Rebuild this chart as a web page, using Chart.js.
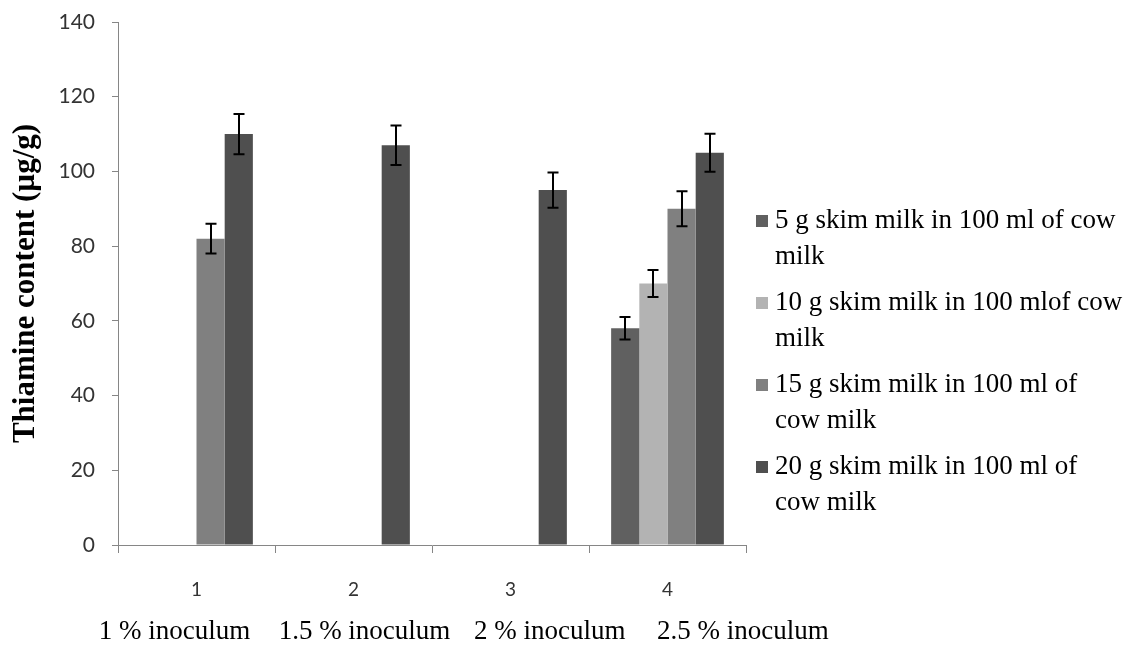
<!DOCTYPE html>
<html><head><meta charset="utf-8">
<script src="https://cdn.jsdelivr.net/npm/chart.js@4.4.1/dist/chart.umd.min.js"></script>
<style>html,body{margin:0;padding:0;background:#fff;} #wrap{width:1139px;height:654px;position:relative;}</style>
</head><body><div id="wrap"><canvas id="c"></canvas></div>
<script>
// ---- data ----
const categories = ['1', '2', '3', '4'];
const inoculumLabels = ['1 % inoculum', '1.5 % inoculum', '2 % inoculum', '2.5 % inoculum'];
const inoculumLabelPos = [-0.14, 1.07, 2.25, 3.48];
const seriesNames = [
  ['5 g skim milk in 100 ml of cow', 'milk'],
  ['10 g skim milk in 100 mlof cow', 'milk'],
  ['15 g skim milk in 100 ml of', 'cow milk'],
  ['20 g skim milk in 100 ml of', 'cow milk']
];
const values5g  = [null, null, null, 58];
const values10g = [null, null, null, 70];
const values15g = [82, null, null, 90];
const values20g = [110, 107, 95, 105];
const errors5g  = [null, null, null, 3.0];
const errors10g = [null, null, null, 3.6];
const errors15g = [4.0, null, null, 4.7];
const errors20g = [5.4, 5.3, 4.7, 5.1];
const yMin = 0, yMax = 140, yStep = 20;
const yTitle = 'Thiamine content (µg/g)';

const seriesValues = [values5g, values10g, values15g, values20g];
const seriesErrors = [errors5g, errors10g, errors15g, errors20g];
const seriesColors = ['#606060', '#b3b3b3', '#808080', '#4f4f4f'];

const errorBars = {
  id: 'errorBars',
  afterDatasetsDraw(chart) {
    const ctx = chart.ctx, y = chart.scales.y;
    chart.data.datasets.forEach((ds, i) => {
      const meta = chart.getDatasetMeta(i);
      meta.data.forEach((el, j) => {
        const v = ds.data[j], e = ds.errors[j];
        if (v == null || e == null) return;
        const top = y.getPixelForValue(v + e), bot = y.getPixelForValue(v - e);
        const x = Math.round(el.x);
        ctx.save();
        ctx.strokeStyle = '#000';
        ctx.lineWidth = 2;
        ctx.beginPath();
        ctx.moveTo(x, top); ctx.lineTo(x, bot);
        ctx.moveTo(x - 5.5, top); ctx.lineTo(x + 5.5, top);
        ctx.moveTo(x - 5.5, bot); ctx.lineTo(x + 5.5, bot);
        ctx.stroke();
        ctx.restore();
      });
    });
  }
};

const legendStyle = { family: 'Liberation Serif', size: 27, top: 221, step: 82, lineStep: 36, markerX: 756, textX: 775 };

const sideLegend = {
  id: 'sideLegend',
  afterDraw(chart) {
    const ctx = chart.ctx, o = legendStyle;
    ctx.save();
    ctx.font = Chart.helpers.toFont({ family: o.family, size: o.size }).string;
    ctx.textBaseline = 'middle';
    ctx.textAlign = 'left';
    chart.data.datasets.forEach((ds, i) => {
      const yc = o.top + i * o.step;
      ctx.fillStyle = ds.backgroundColor;
      ctx.fillRect(o.markerX, yc - 6, 12, 12);
      ctx.fillStyle = '#000';
      ds.legendLines.forEach((line, k) => {
        ctx.fillText(line, o.textX, yc + k * o.lineStep);
      });
    });
    ctx.restore();
  }
};

new Chart(document.getElementById('c'), {
  type: 'bar',
  data: {
    labels: categories,
    datasets: seriesNames.map((n, i) => ({
      label: n.join(' '),
      legendLines: n,
      data: seriesValues[i],
      errors: seriesErrors[i],
      backgroundColor: seriesColors[i],
      borderWidth: 0,
      categoryPercentage: 0.718,
      barPercentage: 1.0
    }))
  },
  options: {
    responsive: true,
    maintainAspectRatio: false,
    animation: false,
    layout: { padding: { left: 0, right: 393, top: 22, bottom: 0 } },
    plugins: {
      legend: { display: false },
      tooltip: { enabled: false }
    },
    scales: {
      x: {
        type: 'category',
        position: 'bottom',
        weight: 0,
        offset: true,
        afterFit: s => { s.height = 56; },
        grid: { offset: true, drawOnChartArea: false, tickLength: 8, color: '#868686' },
        border: { color: '#868686', width: 1 },
        ticks: { font: { family: 'Lato', size: 19 }, color: '#333', padding: 25, maxRotation: 0 }
      },
      x2: {
        type: 'linear',
        position: 'bottom',
        weight: 1,
        offset: false,
        min: -0.5,
        max: 3.5,
        afterFit: s => { s.height = 53; },
        grid: { display: false, drawTicks: false },
        border: { display: false },
        afterBuildTicks: s => { s.ticks = inoculumLabelPos.map(v => ({ value: v })); },
        ticks: {
          font: { family: 'Liberation Serif', size: 27 },
          color: '#000',
          padding: 15,
          autoSkip: false,
          maxRotation: 0,
          callback: (v, i) => inoculumLabels[i]
        }
      },
      y: {
        min: yMin,
        max: yMax,
        afterFit: s => { s.width = 118; s.paddingTop = 0; s.paddingBottom = 0; },
        grid: { drawOnChartArea: false, tickLength: 6, color: '#868686' },
        border: { color: '#868686', width: 1 },
        ticks: { stepSize: yStep, font: { family: 'Lato', size: 21 }, color: '#333', padding: 17 },
        title: {
          display: true,
          text: yTitle,
          font: { family: 'Liberation Serif', size: 31, weight: 'bold' },
          color: '#000',
          padding: { top: 7, bottom: 0 }
        }
      }
    }
  },
  plugins: [errorBars, sideLegend]
});
</script>
</body></html>
